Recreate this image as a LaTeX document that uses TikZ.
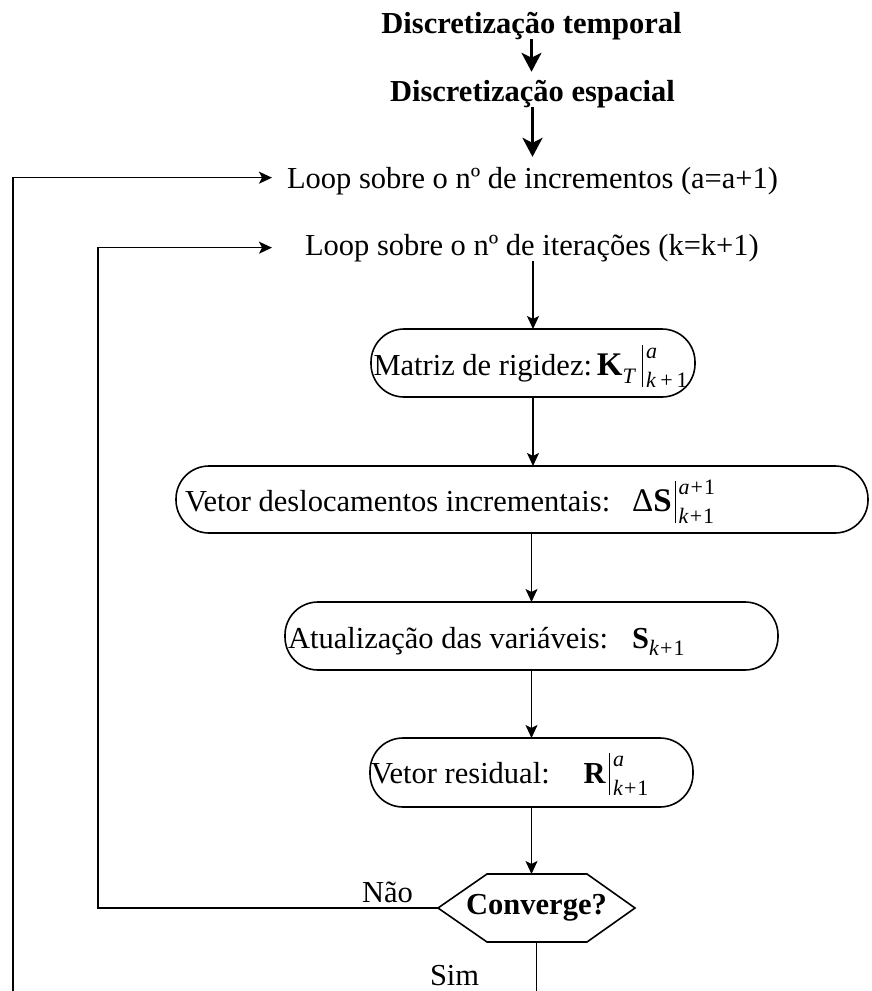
\documentclass[tikz,border=0pt]{standalone}
\usepackage{fontspec}
\setmainfont{Liberation Serif}
\usetikzlibrary{arrows.meta}
\newcommand{\fsz}{\fontsize{30.5pt}{36pt}\selectfont}
\newcommand{\mbig}{\fontsize{33pt}{36pt}\selectfont}
\newcommand{\scr}{\fontsize{22pt}{22pt}\selectfont}
\newcommand{\kpo}{\textit{k}\kern1pt+\kern1pt1}
\newcommand{\evbar}[2]{\kern3pt\rule[-12pt]{1pt}{42pt}\kern3pt\rlap{\raisebox{17pt}{\scr #1}}\raisebox{-12pt}{\scr #2}}
\begin{document}
\begin{tikzpicture}[x=1pt,y=-1pt,
  every node/.style={inner sep=0pt, outer sep=0pt, font=\fsz},
  box/.style={draw=black, line width=1.6pt, rounded corners=33pt},
  ln/.style={draw=black, line width=1.6pt},
  arr/.style={ln, -{Stealth[length=13pt,width=12pt,inset=3pt]}},
  bigarr/.style={draw=black, line width=2.8pt, -{Stealth[length=19pt,width=20pt,inset=5pt]}},
  hd/.style={font=\fsz\bfseries, anchor=base},
  txt/.style={anchor=base west}]
\fill[white] (0,0) rectangle (871,991);
\useasboundingbox (0,0) rectangle (871,991);

% headers and loop texts
\node[hd] (t1) at (531.5,33) {Discretização temporal};
\node[hd] (t2) at (532.5,101) {Discretização espacial};
\node[txt] (l1) at (287,188) {Loop sobre o nº de incrementos (a=a+1)};
\node[txt] (l2) at (305,255) {Loop sobre o nº de iterações (k=k+1)};

% boxes
\node[box, minimum width=324pt, minimum height=68pt] (b1) at (533,363) {};
\node[box, minimum width=692pt, minimum height=67pt] (b2) at (522,499.5) {};
\node[box, minimum width=493pt, minimum height=68pt] (b3) at (531.5,636) {};
\node[box, minimum width=323pt, minimum height=69pt] (b4) at (531.5,772.5) {};

\node[txt] (b1t) at (373.5,375) {Matriz de rigidez:\kern5pt{\mbig\textbf{K}}\raisebox{-8pt}{\scr\textit{T}}\kern3pt\evbar{\textit{a}}{\textit{k}\kern4pt+\kern4pt1}};
\node[txt] (b2t) at (185,511) {Vetor deslocamentos incrementais:\kern22pt{\mbig Δ\textbf{S}}\evbar{\textit{a}\kern1pt+\kern1pt1}{\kpo}};
\node[txt] (b3t) at (288,648) {Atualização das variáveis:\kern24pt\textbf{S}\raisebox{-7pt}{\scr\kpo}};
\node[txt] (b4t) at (371,783) {Vetor residual:\kern34pt\textbf{R}\evbar{\textit{a}}{\kpo}};

% decision
\node[font=\fsz\bfseries, minimum width=197pt, minimum height=68pt] (hx) at (536.5,908) {Converge?};
\draw[ln, line join=miter] (hx.west) -- ([xshift=49pt]hx.north west) -- ([xshift=-48pt]hx.north east)
  -- (hx.east) -- ([xshift=-48pt]hx.south east) -- ([xshift=49pt]hx.south west) -- cycle;

\node[txt] (nao) at (362,902) {Não};
\node[txt] (sim) at (430,985) {Sim};

\coordinate (oe) at (13,991);
\coordinate (se) at (537,991);

% connectors
\draw[bigarr, shorten >=8pt] (t1.south) -- (t1.south |- t2.north);
\draw[bigarr, shorten >=10pt] (t2.south) -- (t2.south |- l1.north);
\draw[arr] (l2.south -| b1) -- (b1);
\draw[arr] (b1.south) -- (b1.south |- b2.north);
\draw[arr] (b3 |- b2.south) -- (b3.north);
\draw[arr] (b3) -- (b4);
\draw[arr] (b4.south) -- (b4.south |- hx.north);
\draw[arr, shorten >=33pt] (hx.west) -- ++(-340pt,0) |- (l2.west);
\draw[ln] (hx.south) -- (hx.south |- se);
\draw[arr, shorten >=15pt] (oe) |- ([yshift=3pt]l1.west);
\end{tikzpicture}
\end{document}
